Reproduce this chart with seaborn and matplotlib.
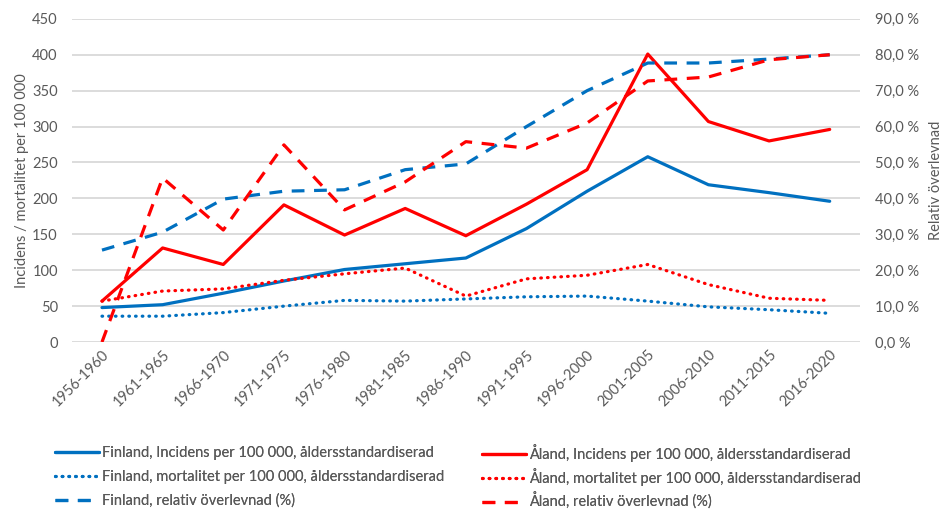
import matplotlib
matplotlib.use("Agg")
import matplotlib.pyplot as plt
import seaborn as sns
import pandas as pd
from matplotlib.ticker import FuncFormatter

# === DATA
perioder = ["1956-1960", "1961-1965", "1966-1970", "1971-1975", "1976-1980",
            "1981-1985", "1986-1990", "1991-1995", "1996-2000", "2001-2005",
            "2006-2010", "2011-2015", "2016-2020"]

fin_incidens = [48, 52, 68, 85, 101, 109, 117, 158, 210, 258, 219, 208, 196]
ala_incidens = [57, 131, 108, 191, 149, 186, 148, 192, 240, 401, 307, 280, 296]
fin_mortalitet = [36, 36, 41, 50, 58, 57, 60, 63, 64, 57, 49, 45, 40]
ala_mortalitet = [57, 71, 74, 86, 95, 103, 64, 88, 93, 108, 80, 61, 58]
fin_overlevnad = [25.6, 30.6, 39.8, 42.0, 42.4, 48.0, 49.6, 60.0, 70.0, 77.7, 77.7, 78.8, 80.0]
ala_overlevnad = [0.0, 45.7, 31.2, 54.9, 36.8, 44.6, 55.8, 54.0, 61.0, 72.7, 73.8, 78.6, 80.0]

BLUE = "#0070C0"
RED = "#FF0000"
GREY = "#595959"

sns.set_theme(style="white")
plt.rcParams['font.family'] = ['Lato', 'DejaVu Sans']

df = pd.DataFrame({
    "period": perioder,
    "fin_inc": fin_incidens, "ala_inc": ala_incidens,
    "fin_mort": fin_mortalitet, "ala_mort": ala_mortalitet,
    "fin_surv": fin_overlevnad, "ala_surv": ala_overlevnad,
})

fig = plt.figure(figsize=(9.43, 5.09), dpi=100)
ax = fig.add_axes([0.076, 0.328, 0.836, 0.635])
ax2 = ax.twinx()

LW = 2.3
dotted = (0, (0.2, 1.9))
dashed = (0, (4, 3))

series = [
    (ax, "fin_inc", BLUE, "-", "Finland, Incidens per 100 000, åldersstandardiserad"),
    (ax, "fin_mort", BLUE, dotted, "Finland, mortalitet per 100 000, åldersstandardiserad"),
    (ax2, "fin_surv", BLUE, dashed, "Finland, relativ överlevnad (%)"),
    (ax, "ala_inc", RED, "-", "Åland, Incidens per 100 000, åldersstandardiserad"),
    (ax, "ala_mort", RED, dotted, "Åland, mortalitet per 100 000, åldersstandardiserad"),
    (ax2, "ala_surv", RED, dashed, "Åland, relativ överlevnad (%)"),
]

handles = []
for a, col, color, ls, lab in series:
    sns.lineplot(data=df, x="period", y=col, ax=a, color=color, lw=LW,
                 linestyle=ls, sort=False, label=lab, legend=False)
    line = a.get_lines()[-1]
    if ls is dotted:
        line.set_dash_capstyle("round")
    handles.append(line)

ax.set_xlim(-0.5, 12.5)
ax.set_ylim(0, 450)
ax.set_yticks(range(0, 451, 50))
ax2.set_ylim(0, 90)
ax2.set_yticks(range(0, 91, 10))
ax2.yaxis.set_major_formatter(FuncFormatter(lambda v, p: f"{v:.1f} %".replace(".", ",")))

ax.grid(axis="y", color="#D9D9D9", lw=1.3)
ax.set_axisbelow(True)
for a in (ax, ax2):
    for s in a.spines.values():
        s.set_visible(False)
    a.tick_params(length=0, colors=GREY, labelsize=10.5)
ax.tick_params(axis="y", pad=10)
ax2.tick_params(axis="y", pad=11)
ax.tick_params(axis="x", pad=4)
plt.setp(ax.get_xticklabels(), rotation=45, ha="right", rotation_mode="anchor")

ax.set_xlabel("")
ax.set_ylabel("Incidens / mortalitet per 100 000", color=GREY, fontsize=10.5, labelpad=2)
ax2.set_ylabel("Relativ överlevnad", color=GREY, fontsize=10.5, labelpad=7)

# one small legend per entry so both columns share the same rows
leg_x = [0.0583, 0.511]
leg_y = [0.110, 0.0629, 0.0157]
for i, h in enumerate(handles):
    leg = fig.legend(handles=[h], loc="center left",
                     bbox_to_anchor=(leg_x[i // 3], leg_y[i % 3]),
                     frameon=False, fontsize=10.5, handlelength=3.0,
                     handletextpad=0.2, labelcolor=GREY,
                     borderaxespad=0, borderpad=0)
    fig.add_artist(leg)

fig.savefig("out.png", dpi=100)
